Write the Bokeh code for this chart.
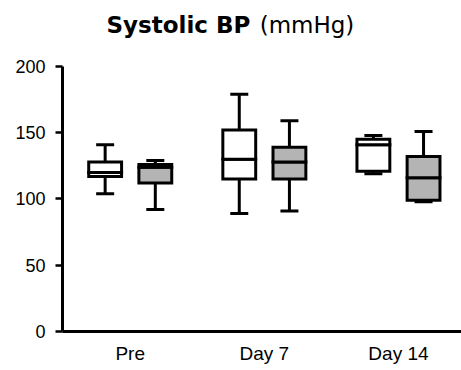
from bokeh.plotting import figure
from bokeh.models import ColumnDataSource, Whisker, TeeHead, FixedTicker, Range1d, Label
from bokeh.embed import file_html
from bokeh.resources import INLINE

# ---- data ----
groups = ["Pre", "Day 7", "Day 14"]
y_ticks = [0, 50, 100, 150, 200]

# open (white) series
white_lower = [104, 89, 119]
white_q1 = [117, 115, 121]
white_median = [120, 130, 141]
white_q3 = [128, 152, 145]
white_upper = [141, 179, 148]

# filled (grey) series
grey_lower = [92, 91, 98]
grey_q1 = [112, 115, 99]
grey_median = [124, 128, 116]
grey_q3 = [126, 139, 132]
grey_upper = [129, 159, 151]

OFFSET = 0.187
BOX_W = 0.245
FONT = "Liberation Sans"

p = figure(width=461, height=368, output_backend="svg", toolbar_location=None,
           x_range=Range1d(0.495, 3.47), y_range=Range1d(0, 249.8),
           min_border_left=62, min_border_right=0, min_border_top=0, min_border_bottom=37)
p.outline_line_color = None
p.xgrid.visible = False
p.ygrid.visible = False
p.background_fill_color = "white"

def add_series(lower, q1, med, q3, upper, offset, fill):
    xs = [i + 1 + offset for i in range(len(groups))]
    src = ColumnDataSource(dict(x=xs, lower=lower, q1=q1, med=med, q3=q3, upper=upper))
    w = Whisker(source=src, base="x", upper="upper", lower="lower", dimension="height",
                line_width=3, line_color="black",
                upper_head=TeeHead(size=18, line_width=3, line_color="black"),
                lower_head=TeeHead(size=18, line_width=3, line_color="black"))
    p.add_layout(w)
    p.vbar(x="x", width=BOX_W, bottom="q1", top="med", source=src, fill_color=fill,
           line_color="black", line_width=3, line_join="miter")
    p.vbar(x="x", width=BOX_W, bottom="med", top="q3", source=src, fill_color=fill,
           line_color="black", line_width=3, line_join="miter")

add_series(white_lower, white_q1, white_median, white_q3, white_upper, -OFFSET, "white")
add_series(grey_lower, grey_q1, grey_median, grey_q3, grey_upper, OFFSET, "#b4b4b4")

# axes
p.xaxis.ticker = FixedTicker(ticks=[1, 2, 3])
p.xaxis.major_label_overrides = {i + 1: g for i, g in enumerate(groups)}
p.xaxis.major_tick_line_color = None
p.xaxis.major_tick_out = 0
p.xaxis.minor_tick_line_color = None
p.xaxis.axis_line_width = 3
p.xaxis.major_label_standoff = 11
p.xaxis.major_label_text_font = FONT
p.xaxis.major_label_text_font_size = "19px"
p.xaxis.major_label_text_color = "black"

p.yaxis.ticker = FixedTicker(ticks=y_ticks)
p.yaxis.bounds = (0, 200)
p.yaxis.major_tick_out = 7
p.yaxis.major_tick_in = 0
p.yaxis.major_tick_line_width = 2.5
p.yaxis.minor_tick_line_color = None
p.yaxis.axis_line_width = 3
p.yaxis.major_label_standoff = 10
p.yaxis.major_label_text_font = FONT
p.yaxis.major_label_text_font_size = "18px"
p.yaxis.major_label_text_color = "black"

# title (bold + regular parts)
p.add_layout(Label(x=1.896, y=231.5, text="Systolic BP", text_align="right",
                   text_baseline="alphabetic", text_font="DejaVu Sans",
                   text_font_style="bold", text_font_size="23px", text_color="black"))
p.add_layout(Label(x=1.965, y=231.5, text="(mmHg)", text_align="left",
                   text_baseline="alphabetic", text_font="DejaVu Sans",
                   text_font_size="23px", text_color="black"))

open("out.html", "w").write(file_html(p, INLINE))
